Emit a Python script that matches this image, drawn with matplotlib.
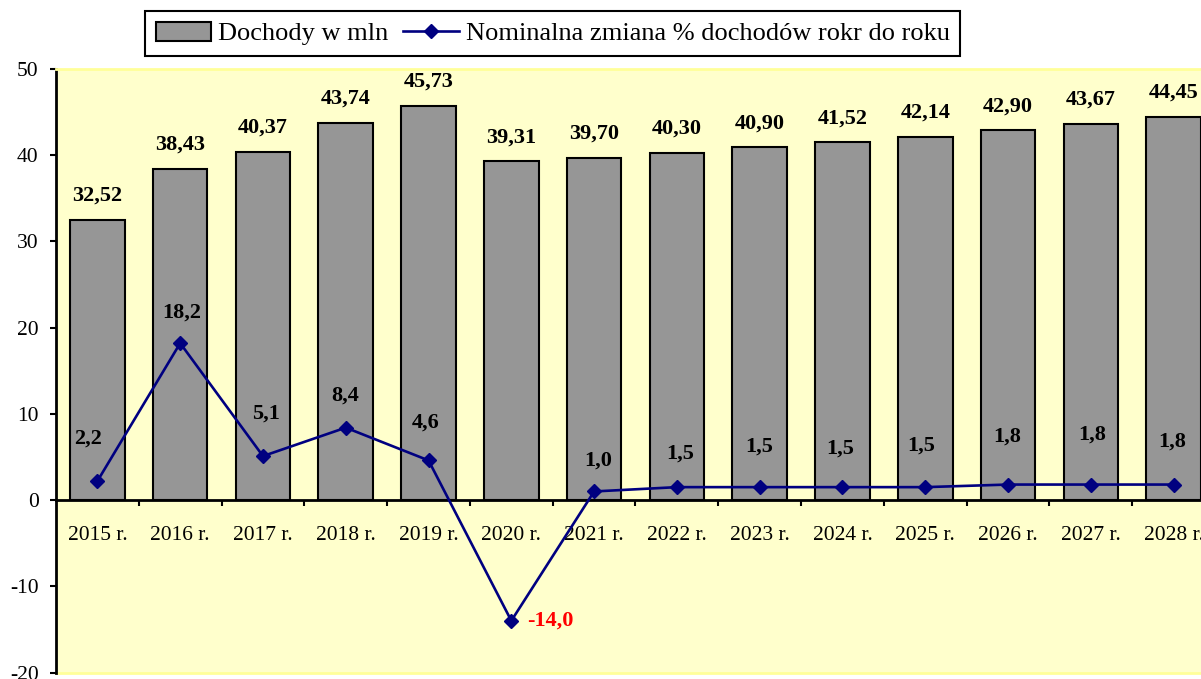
import matplotlib
matplotlib.use("Agg")
import matplotlib.pyplot as plt
import numpy as np

# ---- data ----
years = ["2015 r.", "2016 r.", "2017 r.", "2018 r.", "2019 r.", "2020 r.", "2021 r.",
         "2022 r.", "2023 r.", "2024 r.", "2025 r.", "2026 r.", "2027 r.", "2028 r."]
dochody = [32.52, 38.43, 40.37, 43.74, 45.73, 39.31, 39.70,
           40.30, 40.90, 41.52, 42.14, 42.90, 43.67, 44.45]
zmiana = [2.2, 18.2, 5.1, 8.4, 4.6, -14.0, 1.0,
          1.5, 1.5, 1.5, 1.5, 1.8, 1.8, 1.8]
y_ticks = [-20, -10, 0, 10, 20, 30, 40, 50]

# ---- label offsets (pixels) for line labels: style only ----
line_lbl_dx = [-9, 2, 3, -1, -3, 16, 4, 3, 0, -2, -4, -1, 1, -1]
line_lbl_dy = [43, 31, 43, 32, 38, 0, 31, 34, 41, 39, 42, 48, 50, 43]

plt.rcParams['font.family'] = ['Liberation Serif', 'DejaVu Serif']

W, H = 1201, 679
fig = plt.figure(figsize=(W / 100, H / 100), dpi=100)
left_px, right_px, top_px, bot_px = 56, 1215, 69, 672.5
ax = fig.add_axes([left_px / W, (H - bot_px) / H, (right_px - left_px) / W, (bot_px - top_px) / H])
ax.set_facecolor('#FFFFCC')

x = np.arange(len(years))
bars = ax.bar(x, dochody, width=0.66, color='#969696', edgecolor='black',
              linewidth=1.5, zorder=2, label='Dochody w mln')
line, = ax.plot(x, zmiana, color='#000080', linewidth=1.9, marker='D',
                markersize=7.5, markerfacecolor='#000080', markeredgecolor='#000080',
                zorder=4, label='Nominalna zmiana % dochodów rokr do roku')

ax.set_xlim(-0.5, len(years) - 0.5)
ax.set_ylim(-20, 50)

# bar value labels
for xi, v in zip(x, dochody):
    ax.annotate(f"{v:.2f}".replace('.', ','), (xi, v), xytext=(0, 24),
                textcoords='offset pixels', ha='center', va='center',
                fontsize=16, fontweight='bold', color='black', zorder=5)

# line value labels
for xi, v, dx, dy in zip(x, zmiana, line_lbl_dx, line_lbl_dy):
    neg = v < 0
    ax.annotate(f"{v:.1f}".replace('.', ','), (xi, v), xytext=(dx, dy),
                textcoords='offset pixels', ha='left' if neg else 'center', va='center',
                fontsize=16, fontweight='bold', color='red' if neg else 'black', zorder=5)

# spines
ax.spines['left'].set_linewidth(2)
ax.spines['left'].set_color('black')
ax.spines['bottom'].set_position(('data', 0))
ax.spines['bottom'].set_linewidth(2)
ax.spines['bottom'].set_color('black')
ax.spines['top'].set_color('#FFFF99')
ax.spines['top'].set_linewidth(2)
ax.spines['right'].set_visible(False)
ax.axhline(-20, color='#FFFF99', linewidth=2, zorder=1, clip_on=False)

# y ticks
ax.set_yticks(y_ticks)
ax.set_yticklabels([str(t) for t in y_ticks])
ax.tick_params(axis='y', direction='out', length=4.5, width=1.5, pad=8,
               labelsize=15.5, colors='black')

# x ticks: boundaries as major ticks, labels as minor ticks
ax.set_xticks(np.arange(len(years) - 1) + 0.5)
ax.set_xticklabels([])
ax.tick_params(axis='x', which='major', direction='out', length=4.5, width=1.5)
ax.set_xticks(x, minor=True)
ax.set_xticklabels(years, minor=True)
ax.tick_params(axis='x', which='minor', length=0, pad=18.5, labelsize=15.5)

# legend
leg = ax.legend(handles=[bars, line], loc='upper left',
                bbox_to_anchor=(145 / W, 1 - 11 / H), bbox_transform=fig.transFigure,
                ncol=2, fontsize=19, frameon=True, fancybox=False, shadow=False,
                borderpad=0.4, handlelength=2.1, handletextpad=0.28,
                columnspacing=0.55, borderaxespad=0, handleheight=0.75)
leg.get_frame().set_edgecolor('black')
leg.get_frame().set_linewidth(1.5)
leg.get_frame().set_facecolor('white')
leg.get_frame().set_alpha(1)

fig.savefig('out.png', dpi=100, facecolor='white')
